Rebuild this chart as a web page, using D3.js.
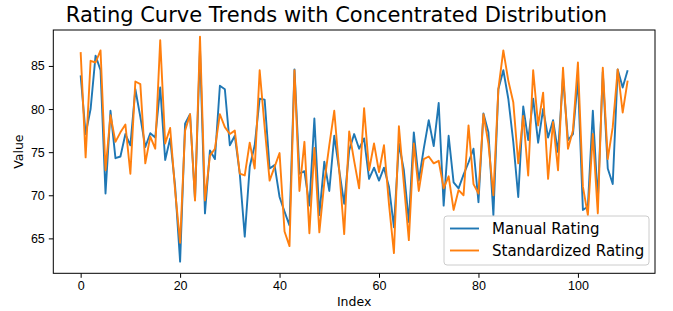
<!DOCTYPE html>
<meta charset="utf-8">
<style>
    body { margin: 0; background: #fff; }
    svg { font-family: "DejaVu Sans", sans-serif; }
    .line { fill: none; stroke-width: 1.9px; stroke-linejoin: round; }
    .axis text { font-size: 12.5px; fill: #000; }
    .axis path, .axis line { stroke: #000; stroke-width: 1px; }
</style>
<body>
<script src="https://d3js.org/d3.v7.min.js"></script>
<script>
    // values, index 0..110
    var manualRating = [
        83.9, 77.1, 80.0, 86.2, 84.5, 70.2, 79.8, 74.3, 74.5, 77.1,
        75.8, 82.3, 79.1, 75.6, 77.2, 76.7, 82.5, 74.1, 76.6, 71.0,
        62.3, 78.3, 79.4, 69.5, 87.0, 67.9, 75.2, 74.2, 82.7, 82.3,
        75.8, 76.9, 72.5, 65.2, 73.3, 75.8, 81.2, 81.1, 73.1, 73.5,
        69.8, 68.1, 66.5, 84.6, 72.5, 72.8, 68.8, 78.9, 67.7, 73.9,
        70.5, 76.9, 72.9, 69.0, 75.2, 77.1, 75.4, 76.6, 71.9, 73.2,
        71.7, 73.2, 71.0, 66.3, 76.0, 72.9, 66.9, 77.3, 71.7, 75.4,
        78.7, 75.7, 80.7, 68.8, 76.9, 71.5, 70.8, 72.4, 73.8, 75.4,
        69.2, 79.5, 77.3, 67.7, 82.3, 84.5, 81.2, 76.2, 69.8, 80.3,
        76.4, 81.2, 76.1, 80.0, 76.7, 78.7, 75.0, 83.7, 76.4, 77.1,
        83.5, 68.3, 68.7, 79.8, 69.3, 84.3, 73.1, 71.3, 84.6, 82.5,
        84.5
    ];
    var standardizedRating = [
        86.6, 74.4, 85.6, 85.4, 86.8, 72.9, 79.3, 76.2, 77.3, 78.2,
        72.5, 83.2, 82.9, 73.7, 76.8, 75.4, 88.0, 76.0, 77.8, 70.5,
        64.5, 77.5, 79.4, 69.4, 88.4, 69.4, 74.6, 75.4, 79.4, 77.9,
        77.1, 77.5, 72.5, 72.3, 76.1, 73.1, 84.5, 77.9, 71.7, 73.3,
        74.9, 65.8, 64.1, 84.5, 70.5, 76.2, 65.6, 75.5, 65.7, 71.5,
        75.8, 79.8, 72.9, 65.5, 77.4, 74.0, 70.8, 80.1, 72.9, 76.0,
        72.7, 75.8, 69.0, 63.3, 78.0, 71.3, 64.8, 76.0, 70.5, 74.2,
        74.5, 73.7, 74.0, 70.8, 72.2, 68.3, 70.6, 70.0, 78.1, 71.3,
        70.2, 79.4, 76.0, 70.0, 82.3, 86.8, 83.3, 80.8, 73.7, 79.2,
        72.3, 84.5, 78.1, 81.9, 71.9, 78.5, 72.9, 84.8, 75.4, 77.5,
        85.4, 71.0, 67.7, 77.1, 67.9, 84.8, 74.2, 77.9, 84.6, 79.6,
        83.3
    ];
    var seriesNames = ["Manual Rating", "Standardized Rating"];
    var seriesColors = ["#1f77b4", "#ff7f0e"];
    var xTicks = [0, 20, 40, 60, 80, 100];
    var yTicks = [65, 70, 75, 80, 85];

    var W = 673, H = 311;
    var plotL = 53.3, plotR = 655, plotT = 30, plotB = 273.3;

    var svg = d3.select("body").append("svg")
        .attr("width", W)
        .attr("height", H);

    // 5% padding either side of 0..110
    var x = d3.scaleLinear().domain([-5.5, 115.5]).range([plotL, plotR]);
    var y = d3.scaleLinear().domain([60.95, 89.17]).range([plotB, plotT]);

    var line = d3.line()
        .x(function(d, i) { return x(i); })
        .y(function(d) { return y(d); });

    [manualRating, standardizedRating].forEach(function(data, k) {
        svg.append("path")
            .datum(data)
            .attr("class", "line")
            .attr("stroke", seriesColors[k])
            .attr("d", line);
    });

    // frame
    svg.append("rect")
        .attr("x", plotL).attr("y", plotT)
        .attr("width", plotR - plotL).attr("height", plotB - plotT)
        .attr("fill", "none").attr("stroke", "#000").attr("stroke-width", 1);

    svg.append("g")
        .attr("class", "axis")
        .attr("transform", "translate(0," + plotB + ")")
        .call(d3.axisBottom(x).tickValues(xTicks).tickSize(4.5).tickPadding(3).tickSizeOuter(0));

    svg.append("g")
        .attr("class", "axis")
        .attr("transform", "translate(" + plotL + ",0)")
        .call(d3.axisLeft(y).tickValues(yTicks).tickSize(4.5).tickPadding(4).tickSizeOuter(0));

    svg.selectAll(".axis .domain").remove();

    // axis labels
    svg.append("text")
        .attr("x", (plotL + plotR) / 2)
        .attr("y", 306)
        .attr("text-anchor", "middle")
        .style("font-size", "12.5px")
        .text("Index");

    svg.append("text")
        .attr("transform", "translate(23," + (plotT + plotB) / 2 + ") rotate(-90)")
        .attr("text-anchor", "middle")
        .style("font-size", "12.5px")
        .text("Value");

    // title, centred on the figure
    svg.append("text")
        .attr("x", W / 2)
        .attr("y", 22)
        .attr("text-anchor", "middle")
        .style("font-size", "21px")
        .text("Rating Curve Trends with Concentrated Distribution");

    // legend, lower right
    var lg = svg.append("g").attr("transform", "translate(444,216)");
    lg.append("rect")
        .attr("width", 205).attr("height", 49)
        .attr("rx", 3)
        .attr("fill", "#fff").attr("fill-opacity", 0.8)
        .attr("stroke", "#ccc").attr("stroke-width", 1);
    seriesNames.forEach(function(name, k) {
        var cy = 12.5 + k * 22;
        lg.append("line")
            .attr("x1", 6).attr("x2", 35)
            .attr("y1", cy).attr("y2", cy)
            .attr("stroke", seriesColors[k]).attr("stroke-width", 1.9);
        lg.append("text")
            .attr("x", 48).attr("y", cy)
            .attr("dy", "0.35em")
            .style("font-size", "15px")
            .text(name);
    });
</script>
</body>
